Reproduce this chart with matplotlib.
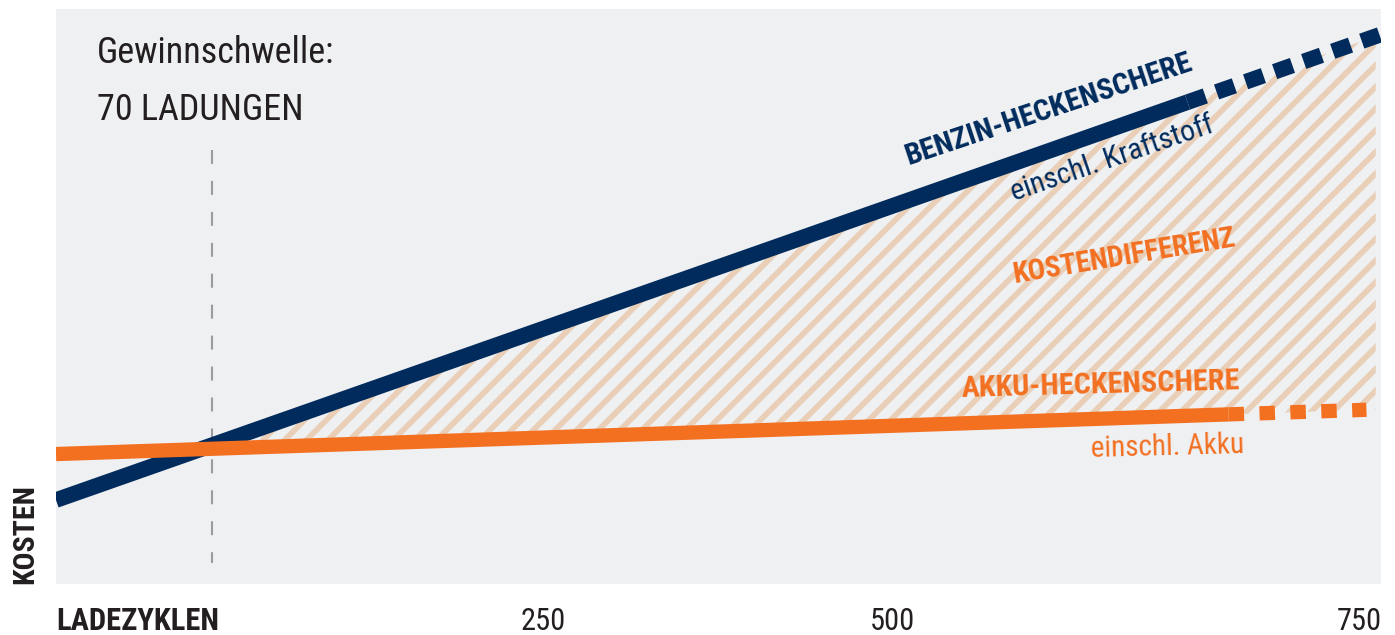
import numpy as np
import matplotlib
matplotlib.use("Agg")
import matplotlib.pyplot as plt
from matplotlib import font_manager as fm
from matplotlib.collections import LineCollection
from matplotlib.transforms import IdentityTransform
from matplotlib.path import Path

# ---------------- data (schematic scale 0..100 on both axes) ----------------
benzin_x = [0.0, 85.4, 99.9]      # solid part: first two points, dotted: last two
benzin_y = [14.6, 83.8, 95.5]
akku_x = [0.0, 88.5, 98.9]
akku_y = [22.6, 29.5, 30.3]
breakeven_x = 11.8
breakeven_span = [75.5, 3.6]
hatch_end_x = 99.6

tick_pos = [36.8, 63.1, 98.4]
tick_labels = ["250", "500", "750"]

# ---------------- style ----------------
NAVY = "#002b5c"
ORANGE = "#f37021"
STRIPE = "#e9cfb7"
BG = "#eff0f2"
INK = "#231f20"

avail = {f.name for f in fm.fontManager.ttflist}
def pick(*names):
    for n in names:
        if n in avail:
            return n
    return "DejaVu Sans"
COND = pick("Liberation Sans Narrow", "Roboto Condensed", "Open Sans Condensed", "DejaVu Sans")
STRETCH = "condensed" if COND == "DejaVu Sans" else "normal"
plt.rcParams["font.family"] = [COND, "DejaVu Sans"]
plt.rcParams["font.stretch"] = STRETCH

fig = plt.figure(figsize=(13.95, 6.35), dpi=100, facecolor="white")
ax = fig.add_axes([56 / 1395, 51 / 635, 1325 / 1395, 575 / 635])
ax.set_facecolor(BG)
ax.set_xlim(0, 100)
ax.set_ylim(0, 100)
for s in ax.spines.values():
    s.set_visible(False)
ax.set_yticks([])

# ---------------- hatched difference area ----------------
xg = np.linspace(0, hatch_end_x, 600)
up = np.interp(xg, benzin_x, benzin_y)
lo = np.interp(xg, akku_x, akku_y)
poly = ax.fill_between(xg, lo, up, where=up >= lo, interpolate=True,
                       facecolor="none", edgecolor="none", zorder=1)
clip = Path.make_compound_path(*poly.get_paths())
offs = np.arange(-800, 1500, 21.7)
segs = [[(c, 0), (c + 800, 800)] for c in offs]
lc = LineCollection(segs, transform=IdentityTransform(), colors=STRIPE,
                    linewidths=4.1, zorder=1)
ax.add_collection(lc, autolim=False)
lc.set_clip_path(clip, ax.transData)

# ---------------- break-even dashed line ----------------
ax.plot([breakeven_x, breakeven_x], breakeven_span, color="#9b9b9b", lw=1.5,
        linestyle=(0, (6.7, 8.15)), dash_capstyle="butt", zorder=2)

# ---------------- lines ----------------
ax.plot(benzin_x[:2], benzin_y[:2], color=NAVY, lw=11.3,
        solid_capstyle="butt", zorder=3)
ax.plot(benzin_x[1:], benzin_y[1:], color=NAVY, lw=11.3,
        linestyle=(0, (1.2, 0.76)), dash_capstyle="butt", zorder=3)
ax.plot(akku_x[:2], akku_y[:2], color=ORANGE, lw=10.3,
        solid_capstyle="butt", zorder=4)
ax.plot(akku_x[1:], akku_y[1:], color=ORANGE, lw=10.3,
        linestyle=(0, (1.08, 1.08)), dash_capstyle="butt", zorder=4)

# ---------------- annotations ----------------
ax.text(3.09, 90.6, "Gewinnschwelle:", fontsize=26, color=INK,
        ha="left", va="baseline")
ax.text(3.09, 80.7, "70 LADUNGEN", fontsize=26, color=INK,
        ha="left", va="baseline")

ax.text(75.1, 81.1, "BENZIN-HECKENSCHERE", fontsize=21.6, fontweight="bold",
        color=NAVY, ha="center", va="baseline", rotation=18.5,
        rotation_mode="anchor", zorder=5)
ax.text(79.9, 72.7, "einschl. Kraftstoff", fontsize=21.5, color=NAVY,
        ha="center", va="baseline", rotation=19, rotation_mode="anchor", zorder=5)
ax.text(80.75, 55.5, "KOSTENDIFFERENZ", fontsize=20.8, fontweight="bold",
        color=ORANGE, ha="center", va="baseline", rotation=9.5,
        rotation_mode="anchor", zorder=5)
ax.text(78.9, 33.2, "AKKU-HECKENSCHERE", fontsize=21.7, fontweight="bold",
        color=ORANGE, ha="center", va="baseline", rotation=1.6,
        rotation_mode="anchor", zorder=5)
ax.text(89.7, 22.8, "einschl. Akku", fontsize=21, color=ORANGE,
        ha="right", va="baseline", rotation=1.5, rotation_mode="anchor", zorder=5)

# ---------------- axis labels & ticks ----------------
ax.set_xticks(tick_pos)
ax.set_xticklabels(tick_labels)
ax.tick_params(axis="x", length=0, pad=33.1, labelsize=22, labelcolor=INK)
for lbl in ax.get_xticklabels():
    lbl.set_va("baseline")

ax.set_xlabel("LADEZYKLEN", fontsize=22, fontweight="bold", color=INK, loc="left")
ax.xaxis.label.set_ha("left")
ax.xaxis.label.set_va("baseline")
ax.xaxis.set_label_coords(0.0, -46 / 575)

ax.set_ylabel("KOSTEN", fontsize=21.5, fontweight="bold", color=INK, loc="bottom")
ax.yaxis.label.set_rotation_mode("anchor")
ax.yaxis.label.set_ha("left")
ax.yaxis.label.set_va("baseline")
ax.yaxis.set_label_coords(-23 / 1325, 0.0)

fig.savefig("out.png", dpi=100, facecolor="white")
